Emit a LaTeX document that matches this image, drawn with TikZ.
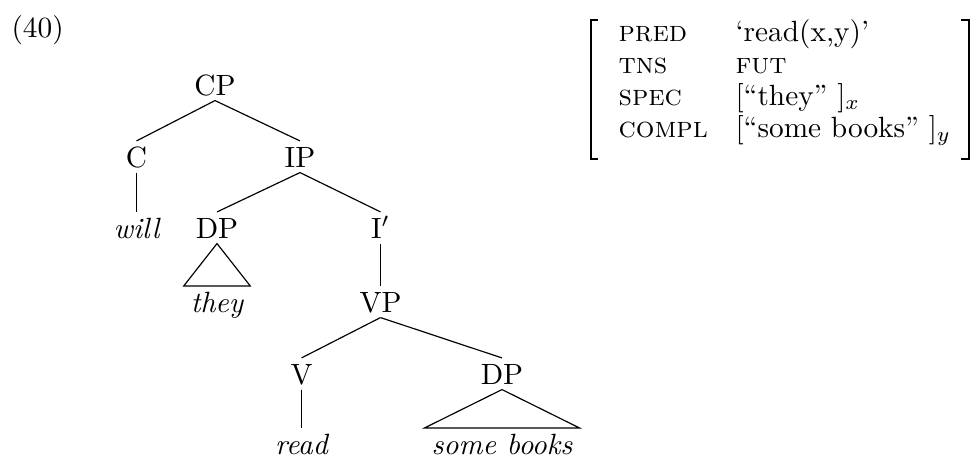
\documentclass[tikz,border=0pt]{standalone}
\usepackage{amsmath,amssymb}
\usepackage{tikz}
\usetikzlibrary{calc}
\usetikzlibrary{positioning}

\tikzset{
  cat/.style={anchor=base, inner sep=0pt, text height=8.7pt, text depth=1.7pt},
  leaf/.style={anchor=base, inner xsep=2.2pt, inner ysep=0pt, text height=8.7pt, text depth=1.7pt, font=\itshape},
  attr/.style={anchor=base west, inner sep=0pt},
}

\begin{document}
\begin{tikzpicture}[x=0.3413pt,y=0.3413pt,yscale=-1,xscale=1]
                  \useasboundingbox (0,0) rectangle (976,456);

                  % Example number
                  \node [anchor=base west, inner sep=0pt] (exnum) at (11,37) {(40)};

                  % Tree nodes
                  \node [cat] (CP) at (215,95) {CP};
                  \node [cat] (C) at (136.5,167) {C};
                  \node [cat] (IP) at (300,167) {IP};
                  \node [leaf] (will) at (136.5,238) {will};
                  \node [cat] (DPa) at (217,238) {DP};
                  \node [cat] (Ibar) at (380.5,238) {I$'$};
                  \node [leaf] (they) at (217,312) {they};
                  \node [cat] (VP) at (380.5,312) {VP};
                  \node [cat] (V) at (301.5,384) {V};
                  \node [cat] (DPb) at (502,384) {DP};
                  \node [leaf] (read) at (301.5,454) {read};
                  \node [leaf] (books) at (502,454) {some books};

                  % Branches
                  \draw (CP.south) -- (C.north);
                  \draw (CP.south) -- (IP.north);
                  \draw (C.south) -- (will.north);
                  \draw (IP.south) -- (DPa.north);
                  \draw (IP.south) -- (Ibar.north);
                  \draw (DPa.south) -- (they.north west) -- (they.north east) -- cycle;
                  \draw (Ibar.south) -- (VP.north);
                  \draw (VP.south) -- (V.north);
                  \draw (VP.south) -- (DPb.north);
                  \draw (V.south) -- (read.north);
                  \draw (DPb.south) -- (books.north west) -- (books.north east) -- cycle;

                  % Feature structure
                  \node [attr] (pred) at (618,41) {\textsc{pred}};
                  \node [attr] (predv) at (735,41) {`read(x,y)'};
                  \node [attr] (tns) at (618,73) {\textsc{tns}};
                  \node [attr] (tnsv) at (735,73) {\textsc{fut}};
                  \node [attr] (spec) at (618,105) {\textsc{spec}};
                  \node [attr] (specv) at (735,105) {[``they''~]$_x$};
                  \node [attr] (compl) at (618,137) {\textsc{compl}};
                  \node [attr] (complv) at (735,137) {[``some books''~]$_y$};

                  % Brackets
                  \draw [line width=0.7pt] (598,20) -- (591,20) -- (591,159) -- (598,159);
                  \draw [line width=0.7pt] (961,20) -- (969,20) -- (969,159) -- (961,159);

              \end{tikzpicture}
\end{document}
